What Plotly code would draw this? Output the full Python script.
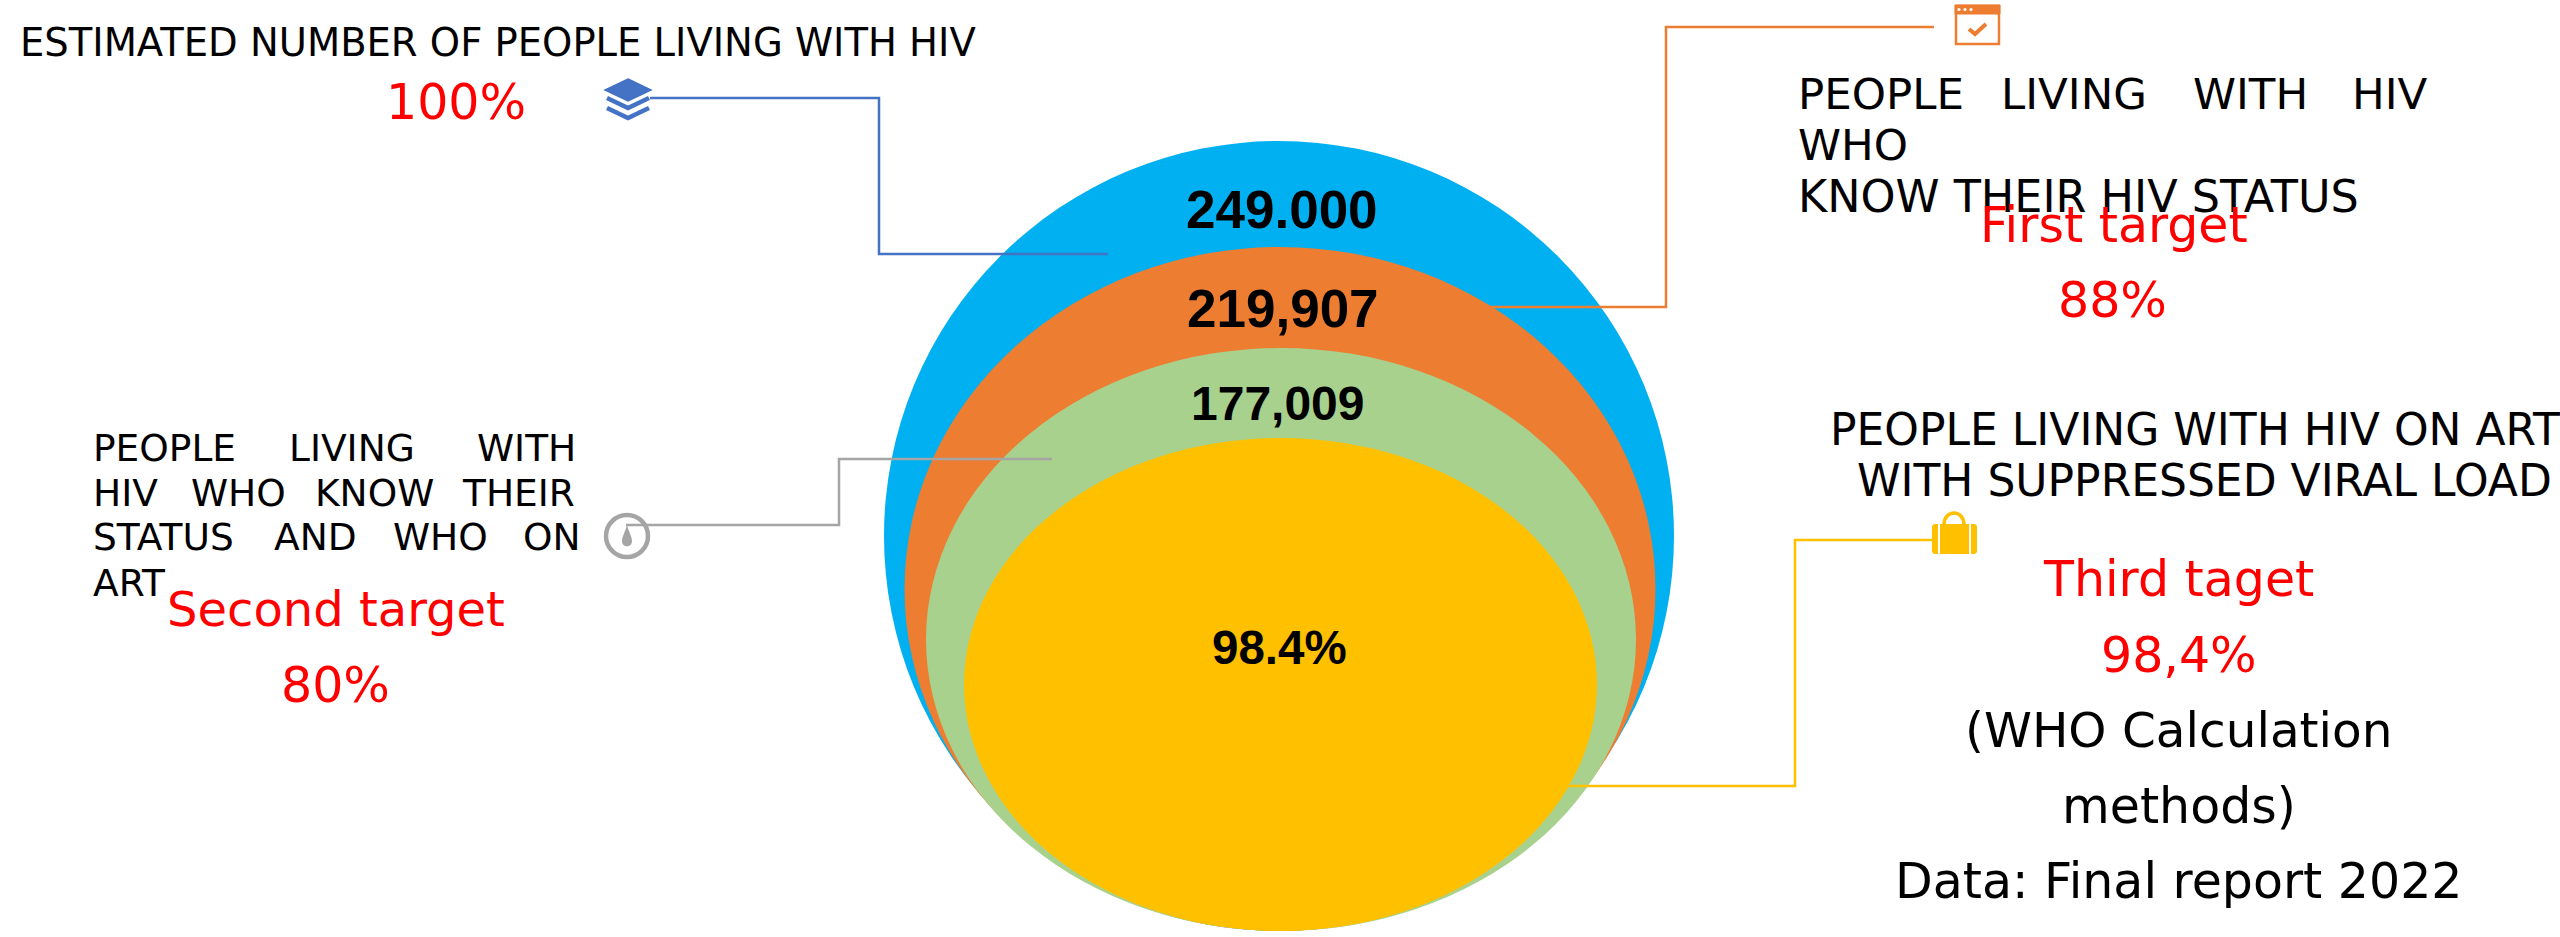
import plotly.graph_objects as go

W, H = 2560, 937
SANS = "DejaVu Sans, Verdana, sans-serif"
BOLD = "Liberation Sans, Arial, sans-serif"
RED = "#FF0000"
BLACK = "#000000"

# ---- data shown on the chart
stage_names = ["Estimated PLHIV", "Know status", "On ART", "Suppressed"]
stage_labels = ["249.000", "219,907", "177,009", "98.4%"]
stage_colors = ["#00B0F0", "#ED7D31", "#A9D18E", "#FFC000"]
line_colors = ["#4472C4", "#ED7D31", "#A5A5A5", "#FFC000"]
target_labels = ["100%", "88%", "80%", "98,4%"]
target_names = ["First target", "Second target", "Third taget"]

# ---- layout geometry (pixels of the 2560x937 page)
ell_cx = [1279, 1280, 1281, 1280.5]
ell_cy = [536, 589, 639.5, 684.5]
ell_rx = [395, 375.5, 355, 316.5]
ell_ry = [395, 342, 291.5, 246.5]
label_xy = [(1282, 209), (1283, 308), (1278, 403), (1279, 647)]
label_size = [53, 53, 48, 47.5]

conn_x = [[650, 879, 879, 1108], [1490, 1666, 1666, 1934],
          [626, 839, 839, 1052], [1567, 1795, 1795, 1932]]
conn_y = [[98, 98, 254, 254], [307, 307, 27, 27],
          [525, 525, 459, 459], [786, 786, 540, 540]]

fig = go.Figure()
shapes = []
for cx, cy, rx, ry, col in zip(ell_cx, ell_cy, ell_rx, ell_ry, stage_colors):
    shapes.append(dict(type="circle", xref="x", yref="y", x0=cx - rx, x1=cx + rx,
                       y0=cy - ry, y1=cy + ry, fillcolor=col, line_width=0, layer="below"))

for xs, ys, col, name in zip(conn_x, conn_y, line_colors, stage_names):
    fig.add_trace(go.Scatter(x=xs, y=ys, mode="lines", name=name, hoverinfo="skip",
                             line=dict(color=col, width=2.5), showlegend=False))


def path(d, fill=None, line=None, width=0):
    s = dict(type="path", xref="x", yref="y", path=d, layer="above")
    s["fillcolor"] = fill if fill else "rgba(0,0,0,0)"
    s["line"] = dict(color=line if line else "rgba(0,0,0,0)", width=width)
    shapes.append(s)


# layers icon (blue)
BLUE = line_colors[0]
path("M628 79 L651 90 L628 101 L605 90 Z", fill=BLUE, line=BLUE, width=1.5)
path("M607 98 L628 108 L649 98", line=BLUE, width=4.5)
path("M607 108 L628 118 L649 108", line=BLUE, width=4.5)
# window icon (orange)
OR = line_colors[1]
path("M1956 6 L1999 6 L1999 44 L1956 44 Z", fill="#FFFFFF", line=OR, width=2.5)
path("M1955 5 L2000 5 L2000 14 L1955 14 Z", fill=OR, line=OR, width=1)
path("M1969 29 L1975 34 L1986 24", line=OR, width=4)
for dx in (1959, 1965, 1971):
    shapes.append(dict(type="circle", xref="x", yref="y", x0=dx - 1.6, x1=dx + 1.6, y0=7.9, y1=11.1,
                       fillcolor="#FFFFFF", line_width=0, layer="above"))
# gauge icon (grey)
GR = line_colors[2]
shapes.append(dict(type="circle", xref="x", yref="y", x0=606, x1=648, y0=515, y1=557,
                   fillcolor="rgba(0,0,0,0)", line=dict(color=GR, width=4.5), layer="above"))
path("M627 525 C629 532 632 537 632 541 C632 548 622 548 622 541 C622 537 625 532 627 525 Z", fill=GR)
# bag icon (yellow)
YL = line_colors[3]
path("M1944 525 C1944 509 1964 509 1964 525", line=YL, width=3.5)
path("M1940 524 L1969 524 L1969 554 L1940 554 Z", fill=YL)
path("M1932 526 L1934 524 L1938 524 L1938 554 L1934 554 L1932 552 Z", fill=YL)
path("M1971 524 L1975 524 L1977 526 L1977 552 L1975 554 L1971 554 Z", fill=YL)

ann = []


def text(x, y, s, size=38.5, color=BLACK, anchor="left", family=SANS, bold=False):
    if bold:
        s = "<b>" + s + "</b>"
    ann.append(dict(x=x, y=y, xref="x", yref="y", text=s, showarrow=False, xanchor=anchor,
                    yanchor="middle", align=anchor, borderpad=0,
                    font=dict(size=size, color=color, family=family)))


for (x, y), s, size in zip(label_xy, stage_labels, label_size):
    text(x, y, s, size=size, anchor="center", family=BOLD, bold=True)

TS = 38.5
LS = 37.5
BS = 43.5
RS = 49
# top-left
text(19, 42, "ESTIMATED NUMBER OF PEOPLE LIVING WITH HIV", TS)
text(456, 102, target_labels[0], RS, RED, "center")
# first target block
for x, w in zip([1797, 2000, 2192, 2351], ["PEOPLE", "LIVING", "WITH", "HIV"]):
    text(x, 94, w, BS)
text(1797, 145, "WHO", BS)
text(1797, 196, "KNOW THEIR HIV STATUS", 44.5)
text(2114, 225, target_names[0], RS, RED, "center")
text(2112, 300, target_labels[1], RS, RED, "center")
# second target block
for x, w in zip([92, 288, 476], ["PEOPLE", "LIVING", "WITH"]):
    text(x, 448, w, LS)
for x, w in zip([92, 190, 314, 461], ["HIV", "WHO", "KNOW", "THEIR"]):
    text(x, 493, w, LS)
for x, w in zip([92, 273, 392, 522], ["STATUS", "AND", "WHO", "ON"]):
    text(x, 537, w, LS)
text(92, 583, "ART", LS)
text(336, 609, target_names[1], 48, RED, "center")
text(335, 685, target_labels[2], RS, RED, "center")
# third target block
text(1829, 429, "PEOPLE LIVING WITH HIV ON ART", 44)
text(1856, 480, "WITH SUPPRESSED VIRAL LOAD", 44)
text(2178, 579, target_names[2], RS, RED, "center")
text(2179, 655, target_labels[3], RS, RED, "center")
text(2179, 730, "(WHO Calculation", 48.5, BLACK, "center")
text(2179, 806, "methods)", RS, BLACK, "center")
text(2179, 881, "Data: Final report 2022", RS, BLACK, "center")

fig.update_layout(width=W, height=H, margin=dict(l=0, r=0, t=0, b=0),
                  paper_bgcolor="#FFFFFF", plot_bgcolor="#FFFFFF", showlegend=False,
                  shapes=shapes, annotations=ann,
                  xaxis=dict(range=[0, W], visible=False, fixedrange=True),
                  yaxis=dict(range=[H, 0], visible=False, fixedrange=True))
fig.write_html("out.html", config=dict(displayModeBar=False),
               default_width=W, default_height=H,
               post_script="document.body.style.margin='0';document.documentElement.style.overflow='hidden';")
